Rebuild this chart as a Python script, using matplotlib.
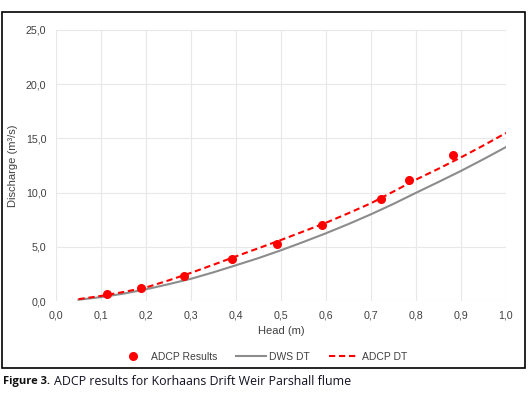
import matplotlib
matplotlib.use("Agg")
import matplotlib.pyplot as plt
from matplotlib.patches import Rectangle
from matplotlib.ticker import FuncFormatter

plt.rcParams["font.family"] = ["Liberation Sans", "DejaVu Sans"]

# ADCP measured points
adcp_head = [0.113, 0.189, 0.284, 0.391, 0.491, 0.591, 0.722, 0.784, 0.882]
adcp_q = [0.65, 1.2, 2.3, 3.87, 5.26, 7.0, 9.4, 11.16, 13.47]

# rating curves
curve_head = [0.05, 0.10, 0.15, 0.20, 0.25, 0.30, 0.35, 0.40, 0.45, 0.50,
              0.55, 0.60, 0.65, 0.70, 0.75, 0.80, 0.85, 0.90, 0.95, 1.00]
dws_q = [0.12, 0.36, 0.68, 1.08, 1.55, 2.05, 2.65, 3.30, 3.96, 4.68,
         5.45, 6.25, 7.10, 8.00, 8.96, 9.98, 10.98, 12.0, 13.08, 14.2]
adcp_dt_q = [0.17, 0.47, 0.83, 1.25, 1.90, 2.60, 3.35, 4.12, 4.87, 5.63,
             6.42, 7.22, 8.10, 9.02, 10.1, 11.2, 12.2, 13.25, 14.35, 15.5]

fig = plt.figure(figsize=(5.3, 3.94), dpi=100)
ax = fig.add_axes([0.1057, 0.236, 0.849, 0.688])

ax.plot(curve_head, dws_q, color="#8c8c8c", lw=1.5, label="DWS DT", zorder=2)
ax.plot(curve_head, adcp_dt_q, color="#ff0000", lw=1.5, ls=(0, (3, 1.8)),
        label="ADCP DT", zorder=3)
ax.plot(adcp_head, adcp_q, "o", color="#ff0000", ms=5.5, ls="none",
        label="ADCP Results", zorder=4)

ax.set_xlim(0, 1.0)
ax.set_ylim(0, 25)
ax.set_xticks([i / 10 for i in range(11)])
ax.set_yticks([0, 5, 10, 15, 20, 25])
ax.xaxis.set_major_formatter(FuncFormatter(lambda v, p: f"{v:.1f}".replace(".", ",")))
ax.yaxis.set_major_formatter(FuncFormatter(lambda v, p: f"{v:.1f}".replace(".", ",")))
ax.grid(True, color="#e8e8e8", lw=0.8)
ax.set_axisbelow(True)
for s in ax.spines.values():
    s.set_visible(False)
ax.tick_params(length=0, labelsize=7.7, colors="#404040", pad=7)
ax.set_xlabel("Head (m)", fontsize=8, color="#404040", labelpad=4)
ax.set_ylabel("Discharge (m³/s)", fontsize=8, color="#404040")
ax.yaxis.set_label_coords(-0.084, 0.5)

h, l = ax.get_legend_handles_labels()
order = [2, 0, 1]
fig.legend([h[i] for i in order], [l[i] for i in order], loc="center",
           bbox_to_anchor=(0.495, 0.094), ncol=3, frameon=False, fontsize=7.5,
           handlelength=2.9, columnspacing=1.8, handletextpad=0.3,
           labelcolor="#404040")

fig.patches.append(Rectangle((0.004, 0.066), 0.9866, 0.9035, transform=fig.transFigure,
                             fill=False, edgecolor="black", lw=1.2))

fig.text(0.006, 0.032, "Figure 3.", fontsize=8, fontweight="bold",
         family="Open Sans", va="center", color="#111111")
fig.text(0.101, 0.032, "ADCP results for Korhaans Drift Weir Parshall flume",
         fontsize=8.9, family="Open Sans", va="center", color="#111122")

fig.savefig("out.png", dpi=100)
